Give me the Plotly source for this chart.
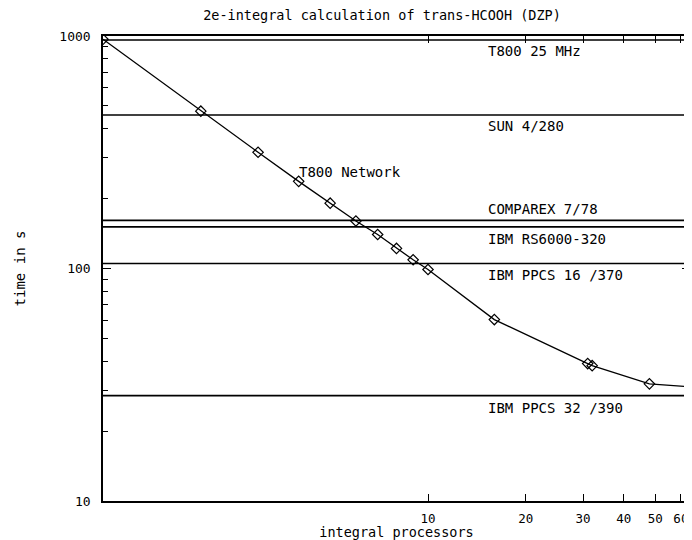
import numpy as np
import plotly.graph_objects as go

# T800 network measurements
processors = [1, 2, 3, 4, 5, 6, 7, 8, 9, 10, 16, 31, 32, 48, 64]
times = [968, 475, 316, 237, 191, 160, 140, 122, 109, 99, 60.3, 39, 38.2, 31.9, 31.0]

# Reference machines (single-processor timings)
machines = ["T800 25 MHz", "SUN 4/280", "COMPAREX 7/78", "IBM RS6000-320",
            "IBM PPCS 16 /370", "IBM PPCS 32 /390"]
machine_times = [961, 457, 161, 151, 105, 28.4]

x_tickvals = [10, 20, 30, 40, 50, 60]
x_ticktext = ["10", "20", "30", "40", "50", "60"]
y_tickvals = [10, 100, 1000]
y_ticktext = ["10", "100", "1000"]
y_minor = [v * d for v in (10, 100) for d in range(2, 10)]

FONT = "DejaVu Sans Mono"

fig = go.Figure()
fig.add_trace(go.Scatter(
    x=processors, y=times, mode="lines+markers",
    line=dict(color="black", width=1.3),
    marker=dict(symbol="diamond-open", size=8, color="black", line=dict(width=1.2)),
    showlegend=False,
))

label_shift = [-11, -11, 11, -12, -11, -12]
for name, t, dy in zip(machines, machine_times, label_shift):
    fig.add_shape(type="line", xref="paper", x0=0, x1=1, yref="y", y0=t, y1=t,
                  line=dict(color="black", width=1.6))
    fig.add_annotation(x=np.log10(15.1), y=np.log10(t), xref="x", yref="y",
                       text=name, showarrow=False, xanchor="left", yanchor="middle",
                       yshift=dy, font=dict(family=FONT, size=14, color="black"))

fig.add_annotation(x=np.log10(3.95), y=np.log10(259), xref="x", yref="y",
                   text="T800 Network", showarrow=False, xanchor="left", yanchor="middle",
                   font=dict(family=FONT, size=14, color="black"))

# page body has an 8px margin: size and margins compensate for it
fig.update_layout(
    width=684, height=532,
    margin=dict(l=95, r=0, t=28, b=32),
    paper_bgcolor="white", plot_bgcolor="white",
    font=dict(family=FONT, size=13, color="black"),
    title=dict(text="2e-integral calculation of trans-HCOOH (DZP)",
               x=374 / 684, xanchor="center", y=1 - 7 / 532, yanchor="middle",
               font=dict(family=FONT, size=13.5, color="black")),
)

fig.update_xaxes(
    type="log", range=[0, np.log10(64)],
    tickvals=x_tickvals, ticktext=x_ticktext,
    ticks="inside", ticklen=7, tickwidth=1.2, tickcolor="black",
    tickfont=dict(size=12.5),
    showline=True, linecolor="black", linewidth=1.5, mirror="ticks",
    showgrid=False, zeroline=False, ticklabelstandoff=5,
    title=dict(text="integral processors", standoff=5,
               font=dict(family=FONT, size=13.5, color="black")),
)
fig.update_yaxes(
    type="log", range=[1, 3],
    tickvals=y_tickvals, ticktext=y_ticktext,
    ticks="inside", ticklen=8, tickwidth=1.2, tickcolor="black",
    minor=dict(tickvals=y_minor, ticks="inside", ticklen=5, tickcolor="black", tickwidth=1),
    showline=True, linecolor="black", linewidth=1.5, mirror="ticks",
    showgrid=False, zeroline=False, ticklabelstandoff=8,
    title=dict(text="time in s", standoff=30,
               font=dict(family=FONT, size=14, color="black")),
)

fig.write_html("out.html")
